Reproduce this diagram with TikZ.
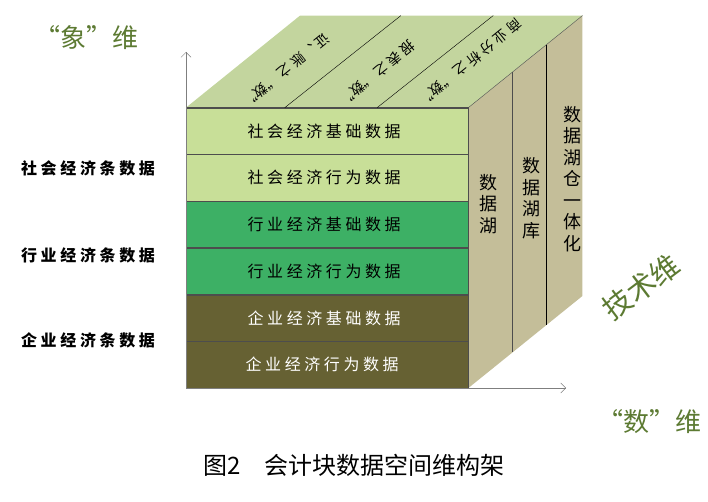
\documentclass[tikz,border=0pt]{standalone}
\usepackage{fontspec}
\newfontfamily\cjk{Noto Sans CJK SC}
\usepackage{tikz}
\usetikzlibrary{positioning,arrows.meta,calc}
\definecolor{paleleaf}{HTML}{C8DF98}
\definecolor{midleaf}{HTML}{3DB065}
\definecolor{darkolive}{HTML}{666133}
\definecolor{topgreen}{HTML}{C3D59E}
\definecolor{sidetan}{HTML}{C4BE99}
\definecolor{dimgreen}{HTML}{5C7A32}
\definecolor{edgegray}{HTML}{4D4D4D}
\definecolor{axisgray}{HTML}{7F7F7F}

\begin{document}
\begin{tikzpicture}[x=1pt,y=1pt,
  row/.style={draw=edgegray,fill=paleleaf,minimum width=282pt,minimum height=46.33pt,inner sep=0pt,font=\cjk\fontsize{16}{16}\selectfont},
  levellbl/.style={font=\cjk\bfseries\fontsize{16}{16}\selectfont},
  toplbl/.style={rotate=-141,font=\cjk\fontsize{14}{14}\selectfont},
  sidelbl/.style={align=center,font=\cjk\fontsize{18}{21.5}\selectfont},
  dimlbl/.style={text=dimgreen,font=\cjk\fontsize{26}{26}\selectfont},
  axis/.style={-{Straight Barb[length=5pt,width=10pt]},color=axisgray,thin}
]
  \useasboundingbox (0,0) rectangle (708,501);
  % front face, bottom to top
  \node[row,fill=darkolive,text=white,anchor=south west] (r6) at (186,113) {企 业 经 济 行 为 数 据\hspace*{10pt}};
  \node[row,fill=darkolive,text=white,above=0pt of r6] (r5) {企 业 经 济 基 础 数 据\hspace*{6pt}};
  \node[row,fill=midleaf,above=0pt of r5] (r4) {行 业 经 济 行 为 数 据\hspace*{6pt}};
  \node[row,fill=midleaf,above=0pt of r4] (r3) {行 业 经 济 基 础 数 据\hspace*{6pt}};
  \node[row,above=0pt of r3] (r2) {社 会 经 济 行 为 数 据\hspace*{6pt}};
  \node[row,above=0pt of r2] (r1) {社 会 经 济 基 础 数 据\hspace*{6pt}};
  % depth corners
  \coordinate (b0) at ($(r1.north west)+(114,92)$);
  \coordinate (b1) at ($(r1.north east)+(114,92)$);
  \coordinate (b2) at ($(r6.south east)+(114,92)$);
  \fill[sidetan] (r1.north east) -- (b1) -- (b2) -- (r6.south east) -- cycle;
  \fill[topgreen] (r1.north west) -- (b0) -- (b1) -- (r1.north east) -- cycle;
  \draw[edgegray] (r1.north west) -- (r1.north east) -- (r6.south east);
  \draw[edgegray] (r1.north east) -- (b1);
  % strips on top and side
  \draw[black,thin] ($(r1.north west)!0.35!(r1.north east)$) -- ++(116,92);
  \draw[black,thin] ($(r1.north west)!0.677!(r1.north east)$) -- ++(116,92);
  \draw[edgegray,thin] ($(r1.north east)!0.386!(b1)$) -- ($(r6.south east)!0.386!(b2)$);
  \draw[black,thin] ($(r1.north east)!0.684!(b1)$) -- ($(r6.south east)!0.684!(b2)$);
  \node[toplbl] (t1) at (286,431) {证 、账 之 “数”};
  \node[toplbl] (t2) at (377,428) {报 表 之 “数”};
  \node[toplbl] (t3) at (470,439) {商 业 分 析 之 “数”};
  \node[sidelbl] (s1) at (488,297) {数\\据\\湖};
  \node[sidelbl] (s2) at (531,303) {数\\据\\湖\\库};
  \node[sidelbl] (s3) at (572,322) {数\\据\\湖\\仓\\一\\体\\化};
  % axes
  \coordinate (ytip) at (186,449);
  \coordinate (xtip) at (566,113);
  \draw[axis] (r6.south west) -- (ytip);
  \draw[axis] (r6.south west) -- (xtip);
  \node[dimlbl] (xiang) at (86,463) {“象”维};
  \node[dimlbl,rotate=37,font=\cjk\fontsize{29}{29}\selectfont] (jishu) at (641,214) {技术维};
  \node[dimlbl] (shu) at (649,79) {“数”维};
  \node[levellbl] (l1) at (88,333) {社 会 经 济 条 数 据};
  \node[levellbl] (l2) at (88,246) {行 业 经 济 条 数 据};
  \node[levellbl] (l3) at (88,161) {企 业 经 济 条 数 据};
  \node[font=\cjk\fontsize{24}{24}\selectfont] (cap) at (354,36) {图2\quad 会计块数据空间维构架};
\end{tikzpicture}
\end{document}
